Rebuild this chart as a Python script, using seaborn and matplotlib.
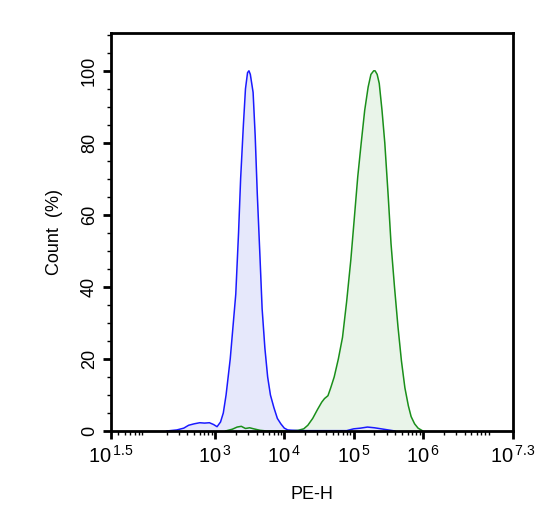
import numpy as np
import pandas as pd
import seaborn as sns
import matplotlib.pyplot as plt
from matplotlib.ticker import FixedLocator, LogLocator, MultipleLocator, NullFormatter

# log10(PE-H) positions and count (%)
blue_log_pe = [2.30, 2.45, 2.55, 2.62, 2.70, 2.78, 2.85, 2.92, 2.98, 3.03, 3.08, 3.12, 3.16,
               3.22, 3.26, 3.30, 3.34, 3.37, 3.41, 3.44, 3.47, 3.49, 3.51, 3.55, 3.58, 3.61,
               3.65, 3.68, 3.72, 3.76, 3.80, 3.85, 3.90, 3.95, 4.00, 4.05, 4.20, 4.90, 5.00,
               5.10, 5.20, 5.30, 5.40, 5.50, 5.60]
blue_pct = [0.0, 0.3, 0.8, 1.6, 2.0, 2.3, 2.2, 2.3, 1.8, 1.2, 2.5, 5.0, 10.0,
            20.0, 29.0, 38.0, 55.0, 70.0, 85.0, 95.0, 99.5, 100.0, 99.0, 94.0, 82.0, 66.0,
            48.0, 34.0, 23.0, 15.0, 10.0, 6.5, 3.5, 2.0, 0.8, 0.3, 0.1, 0.1, 0.6,
            0.8, 1.1, 0.9, 0.6, 0.3, 0.0]

green_log_pe = [3.15, 3.25, 3.32, 3.38, 3.44, 3.50, 3.56, 3.65, 3.75, 4.05, 4.20, 4.28,
                4.34, 4.41, 4.48, 4.54, 4.58, 4.63, 4.67, 4.72, 4.78, 4.84, 4.90, 4.96,
                5.01, 5.06, 5.11, 5.16, 5.21, 5.25, 5.29, 5.31, 5.34, 5.37, 5.41, 5.45,
                5.50, 5.54, 5.59, 5.64, 5.69, 5.74, 5.79, 5.83, 5.88, 5.93, 6.00]
green_pct = [0.0, 0.5, 1.1, 1.3, 0.7, 0.9, 0.6, 0.2, 0.0, 0.0, 0.2, 0.6,
             1.6, 3.5, 6.0, 8.0, 9.0, 9.8, 12.0, 15.0, 20.0, 26.0, 36.0, 47.5,
             59.0, 70.6, 80.0, 89.0, 95.5, 99.0, 100.0, 100.0, 99.0, 96.5, 89.0, 80.0,
             65.0, 52.0, 40.0, 29.0, 19.5, 12.0, 7.0, 4.0, 2.0, 0.8, 0.0]

x_tick_exp = [1.5, 3, 4, 5, 6, 7.3]
x_tick_labels = ['1.5', '3', '4', '5', '6', '7.3']

sns.set_style('white')
plt.rcParams['font.family'] = ['Liberation Sans', 'DejaVu Sans']
plt.rcParams['mathtext.fontset'] = 'custom'
plt.rcParams['mathtext.rm'] = 'Liberation Sans'
plt.rcParams['text.color'] = 'black'
plt.rcParams['axes.labelcolor'] = 'black'
plt.rcParams['xtick.color'] = 'black'
plt.rcParams['ytick.color'] = 'black'

blue = pd.DataFrame({'pe': 10 ** np.array(blue_log_pe), 'pct': blue_pct})
green = pd.DataFrame({'pe': 10 ** np.array(green_log_pe), 'pct': green_pct})

fig = plt.figure(figsize=(5.45, 5.05), dpi=100)
ax = fig.add_axes([0.2037, 0.1465, 0.7376, 0.7882])

ax.fill_between(green['pe'], green['pct'], color='#e9f4e9', lw=0)
ax.fill_between(blue['pe'], blue['pct'], color='#e6e8fb', lw=0)
sns.lineplot(data=green, x='pe', y='pct', sort=False, color='#1a8f1a', lw=1.1, ax=ax)
sns.lineplot(data=blue, x='pe', y='pct', sort=False, color='#1a1aff', lw=1.1, ax=ax)

ax.set_xscale('log')
ax.set_xlim(10 ** 1.5, 10 ** 7.3)
ax.set_ylim(0, 110.5)

ax.xaxis.set_major_locator(FixedLocator([10 ** e for e in x_tick_exp]))
ax.set_xticklabels([r'$\mathregular{10^{\,%s}}$' % s for s in x_tick_labels])
ax.xaxis.set_minor_locator(LogLocator(base=10, subs=np.arange(2, 10), numticks=20))
ax.xaxis.set_minor_formatter(NullFormatter())
ax.yaxis.set_major_locator(MultipleLocator(20))
ax.yaxis.set_minor_locator(MultipleLocator(5))

ax.tick_params(axis='both', which='major', direction='out', length=6, width=2,
               bottom=True, left=True)
ax.tick_params(axis='x', which='major', labelsize=14.5, pad=4)
ax.tick_params(axis='y', which='major', labelsize=13)
ax.tick_params(axis='both', which='minor', direction='out', length=3, width=1,
               bottom=True, left=True)
ax.tick_params(axis='y', labelrotation=90)
for lab in ax.get_yticklabels():
    lab.set_va('center')

for s in ax.spines.values():
    s.set_linewidth(2)
    s.set_color('black')

ax.set_xlabel('PE-H', fontsize=13, labelpad=14)
ax.set_ylabel('Count  (%)', fontsize=13, labelpad=13)

fig.savefig('out.png', dpi=100)
